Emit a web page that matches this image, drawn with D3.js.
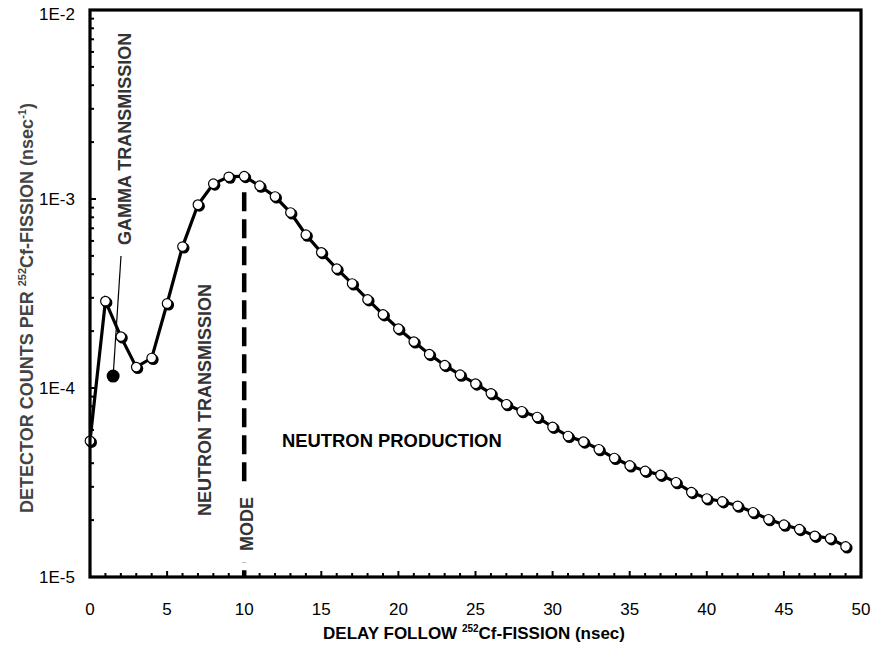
<!DOCTYPE html>
<html>
<head>
<meta charset="utf-8">
<script src="https://cdn.jsdelivr.net/npm/d3@7"></script>
<style>
  body { margin: 0; background: #fff; }
  svg { display: block; font-family: "Liberation Sans", Arial, sans-serif; }
</style>
</head>
<body>
<svg id="chart" width="875" height="655"></svg>
<script>
// delay (nsec) and detector counts per fission
const delays = d3.range(0, 50);
const counts = [
  5.25e-5, 2.88e-4, 1.87e-4, 1.29e-4, 1.44e-4, 2.80e-4, 5.6e-4, 9.33e-4, 1.205e-3, 1.31e-3,
  1.32e-3, 1.175e-3, 1.03e-3, 8.48e-4, 6.47e-4, 5.22e-4, 4.28e-4, 3.57e-4, 2.94e-4, 2.45e-4,
  2.06e-4, 1.76e-4, 1.51e-4, 1.32e-4, 1.175e-4, 1.054e-4, 9.37e-5, 8.2e-5, 7.53e-5, 7.02e-5,
  6.22e-5, 5.57e-5, 5.20e-5, 4.74e-5, 4.26e-5, 3.89e-5, 3.64e-5, 3.47e-5, 3.17e-5, 2.81e-5,
  2.60e-5, 2.51e-5, 2.38e-5, 2.20e-5, 2.02e-5, 1.89e-5, 1.79e-5, 1.65e-5, 1.60e-5, 1.45e-5
];
const gammaPoint = [1.5, 1.156e-4];
const modeDelay = 10;
const xTicks = [0, 5, 10, 15, 20, 25, 30, 35, 40, 45, 50];
const yTicks = [1e-5, 1e-4, 1e-3, 1e-2];
const yTickLabels = ["1E-5", "1E-4", "1E-3", "1E-2"];

const svg = d3.select("#chart");
const mLeft = 90, mRight = 861, mTop = 10, mBottom = 577;

const x = d3.scaleLinear().domain([0, 50]).range([mLeft, mRight]);
const y = d3.scaleLog().domain([1e-5, 1e-2]).range([mBottom, mTop]);

// ticks, inside the frame
const g = svg.append("g");
d3.range(0, 51).forEach(v => {
  const len = v % 5 === 0 ? 6 : 4;
  g.append("line").attr("x1", x(v)).attr("x2", x(v))
    .attr("y1", mBottom).attr("y2", mBottom - len)
    .attr("stroke", "#000").attr("stroke-width", 2);
});
[1e-5, 1e-4, 1e-3].forEach(d => {
  for (let m = 1; m <= 9; m++) {
    const v = d * m;
    const len = m === 1 ? 6 : 4;
    g.append("line").attr("x1", mLeft).attr("x2", mLeft + len)
      .attr("y1", y(v)).attr("y2", y(v))
      .attr("stroke", "#000").attr("stroke-width", 2);
  }
});

// tick labels
svg.selectAll("text.xt").data(xTicks).join("text")
  .attr("class", "xt")
  .attr("x", d => x(d)).attr("y", 615)
  .attr("text-anchor", "middle").attr("font-size", 17)
  .text(d => d);
svg.selectAll("text.yt").data(yTicks).join("text")
  .attr("class", "yt")
  .attr("x", 75).attr("y", d => Math.min(Math.max(y(d) + 6, 20), 586))
  .attr("text-anchor", "end").attr("font-size", 17)
  .text((d, i) => yTickLabels[i]);

// mode line
svg.append("line")
  .attr("x1", x(modeDelay)).attr("x2", x(modeDelay))
  .attr("y1", y(counts[10]) + 16).attr("y2", mBottom)
  .attr("stroke", "#000").attr("stroke-width", 4.5)
  .attr("stroke-dasharray", "19 8");

// gamma annotation
svg.append("line")
  .attr("x1", x(gammaPoint[0])).attr("y1", y(gammaPoint[1]))
  .attr("x2", 121).attr("y2", 256)
  .attr("stroke", "#000").attr("stroke-width", 1.2);
svg.append("circle")
  .attr("cx", x(gammaPoint[0])).attr("cy", y(gammaPoint[1]))
  .attr("r", 6.5).attr("fill", "#000");

// data line
const line = d3.line().x((d, i) => x(delays[i])).y(d => y(d));
svg.append("path").datum(counts)
  .attr("d", line).attr("fill", "none")
  .attr("stroke", "#000").attr("stroke-width", 3.2);

// markers with shadow
svg.selectAll("circle.sh").data(counts).join("circle")
  .attr("class", "sh")
  .attr("cx", (d, i) => x(delays[i]) + 1.5).attr("cy", d => y(d) + 1.5)
  .attr("r", 5.5).attr("fill", "#000");
svg.selectAll("circle.pt").data(counts).join("circle")
  .attr("class", "pt")
  .attr("cx", (d, i) => x(delays[i])).attr("cy", d => y(d))
  .attr("r", 4.8).attr("fill", "#fff")
  .attr("stroke", "#000").attr("stroke-width", 1.2);

// frame
svg.append("rect")
  .attr("x", mLeft).attr("y", mTop)
  .attr("width", mRight - mLeft).attr("height", mBottom - mTop)
  .attr("fill", "none").attr("stroke", "#000").attr("stroke-width", 3.2);

// annotations (rotated text runs upward from its start point)
const vtext = (tx, ty, txt) => svg.append("text")
  .attr("transform", `translate(${tx},${ty}) rotate(-90)`)
  .attr("text-anchor", "start").attr("font-size", 18).attr("font-weight", "bold")
  .attr("fill", "#333").text(txt);
vtext(131, 245, "GAMMA TRANSMISSION");
vtext(211, 516, "NEUTRON TRANSMISSION");
// white gap in the mode line behind its label
svg.append("rect").attr("x", 238).attr("y", 488).attr("width", 17).attr("height", 74).attr("fill", "#fff");
vtext(252.5, 551, "MODE");

svg.append("text")
  .attr("x", 282).attr("y", 447)
  .attr("font-size", 18.4).attr("font-weight", "bold")
  .text("NEUTRON PRODUCTION");

// axis titles
const xt = svg.append("text")
  .attr("x", 474).attr("y", 639)
  .attr("text-anchor", "middle").attr("font-size", 17).attr("font-weight", "bold");
xt.append("tspan").text("DELAY FOLLOW ");
xt.append("tspan").attr("font-size", 10).attr("dy", -7).text("252");
xt.append("tspan").attr("dy", 7).text("Cf-FISSION (nsec)");

const yt = svg.append("text")
  .attr("transform", "translate(33,308) rotate(-90)")
  .attr("text-anchor", "middle").attr("font-size", 18).attr("font-weight", "bold")
  .attr("fill", "#444");
yt.append("tspan").text("DETECTOR COUNTS PER ");
yt.append("tspan").attr("font-size", 11).attr("dy", -7).text("252");
yt.append("tspan").attr("dy", 7).text("Cf-FISSION (nsec");
yt.append("tspan").attr("font-size", 11).attr("dy", -7).text("-1");
yt.append("tspan").attr("dy", 7).text(")");
</script>
</body>
</html>
